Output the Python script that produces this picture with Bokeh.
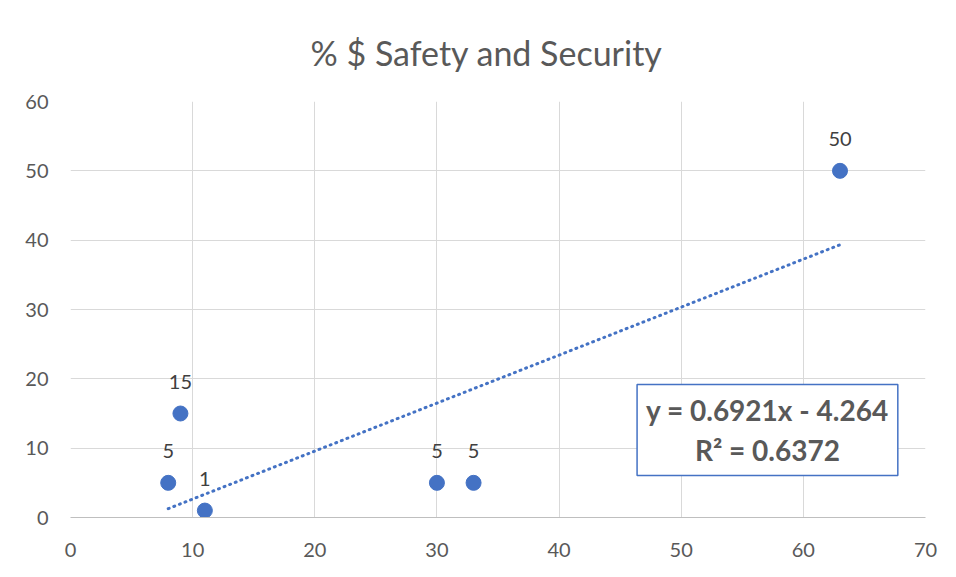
import numpy as np
from bokeh.plotting import figure
from bokeh.models import ColumnDataSource, FixedTicker, Label, Range1d
from bokeh.core.properties import value
from bokeh.embed import file_html
from bokeh.resources import INLINE

title_text = "% $ Safety and Security"
x_vals = [8, 9, 11, 30, 33, 63]
y_vals = [5, 15, 1, 5, 5, 50]
x_ticks = [0, 10, 20, 30, 40, 50, 60, 70]
y_ticks = [0, 10, 20, 30, 40, 50, 60]

FONT = "Lato"
TXT = "#595959"
BLUE = "#4472C4"
GRID = "#d9d9d9"

p = figure(width=950, height=572, output_backend="svg", toolbar_location=None,
           x_range=Range1d(0, 70), y_range=Range1d(0, 60),
           min_border_left=70, min_border_right=25, min_border_top=101, min_border_bottom=55)
p.frame_width = 855
p.frame_height = 416
p.background_fill_color = "white"
p.border_fill_color = "white"
p.outline_line_color = None

p.title.text = title_text
p.title.align = "left"
p.title.offset = 240
p.title.text_font = FONT
p.title.text_font_style = "normal"
p.title.text_font_size = "34px"
p.title.text_color = TXT
p.title.standoff = 58

for ax in (p.xaxis[0], p.yaxis[0]):
    ax.major_tick_line_color = None
    ax.minor_tick_line_color = None
    ax.major_label_text_font = FONT
    ax.major_label_text_font_size = "20px"
    ax.major_label_text_color = TXT
p.xaxis.ticker = FixedTicker(ticks=x_ticks)
p.yaxis.ticker = FixedTicker(ticks=y_ticks)
p.xaxis.axis_line_color = "#bfbfbf"
p.yaxis.axis_line_color = None
p.xaxis.major_label_standoff = 19
p.yaxis.major_label_standoff = 16
p.xgrid.grid_line_color = GRID
p.ygrid.grid_line_color = GRID
p.xgrid.ticker = FixedTicker(ticks=x_ticks)
p.ygrid.ticker = FixedTicker(ticks=y_ticks)

# trendline
slope, intercept = np.polyfit(x_vals, y_vals, 1)
pred = slope * np.array(x_vals) + intercept
ss_res = np.sum((np.array(y_vals) - pred) ** 2)
ss_tot = np.sum((np.array(y_vals) - np.mean(y_vals)) ** 2)
r2 = 1 - ss_res / ss_tot
tx = [min(x_vals), max(x_vals)]
ty = [slope * v + intercept for v in tx]
p.line(tx, ty, line_color=BLUE, line_width=3, line_dash="1 5", line_cap="round")

src = ColumnDataSource(dict(x=x_vals, y=y_vals, lbl=[str(v) for v in y_vals]))
p.scatter("x", "y", source=src, size=15, fill_color=BLUE, line_color=BLUE)
p.text("x", "y", text="lbl", source=src, text_align="center", text_baseline="middle",
       y_offset=-32, text_font=value(FONT), text_font_size="20px", text_color="#404040")

sign = "-" if intercept < 0 else "+"
eq = f"y = {slope:.4f}x {sign} {abs(intercept):.3f}\nR² = {r2:.4f}"
p.add_layout(Label(x=57.06, y=12.62, text=eq, text_align="center", text_baseline="middle",
                   text_font=FONT, text_font_style="bold", text_font_size="28px",
                   text_color=TXT, border_line_color=BLUE, border_line_width=1.5,
                   background_fill_color="white", padding=9, text_line_height=1.15))

open("out.html", "w").write(file_html(p, INLINE))
